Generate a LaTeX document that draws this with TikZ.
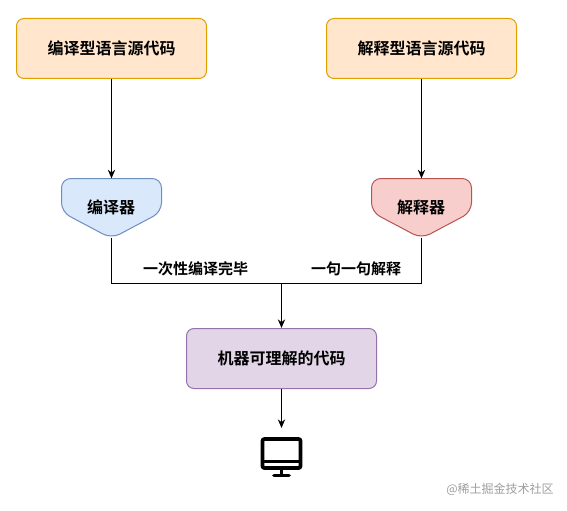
\documentclass[tikz,border=0pt]{standalone}
\usepackage{fontspec}
\setmainfont{Noto Sans CJK SC}[BoldFont={* Bold}]
\usetikzlibrary{arrows.meta}
\definecolor{orfill}{HTML}{FFE6CC}\definecolor{ordraw}{HTML}{E0A000}
\definecolor{blfill}{HTML}{DAE8FC}\definecolor{bldraw}{HTML}{6C8EBF}
\definecolor{rdfill}{HTML}{F8CECC}\definecolor{rddraw}{HTML}{B85450}
\definecolor{pufill}{HTML}{E1D5E7}\definecolor{pudraw}{HTML}{9673A6}
\tikzset{
  srcbox/.style={draw=ordraw,fill=orfill,rounded corners=5.6pt,minimum width=142.5pt,minimum height=45pt,inner sep=0pt,line width=.75pt,font=\fontsize{12}{14}\selectfont\bfseries},
  slot/.style={minimum width=75pt,minimum height=44pt,inner sep=0pt},
  lab/.style={font=\fontsize{11.25}{13}\selectfont\bfseries,inner sep=0pt},
  shapelab/.style={font=\fontsize{12}{14}\selectfont\bfseries,inner sep=0pt},
  flow/.style={line width=.75pt,-{Stealth[length=6.5pt,width=5.5pt]}},
  plain/.style={line width=.75pt},
  penta/.style={line width=.75pt,rounded corners=7pt},
  screen/.style={line width=2.8pt,rounded corners=1.5pt},
}
\begin{document}
\begin{tikzpicture}[x=.75pt,y=-.75pt]
\useasboundingbox (0,0) rectangle (567,510);
\node[srcbox] (cs) at (111.5,48.5) {编译型语言源代码};
\node[srcbox] (is) at (421.5,48.5) {解释型语言源代码};
\node[slot] (en) at (111.5,208) {};
\node[slot] (in) at (421.5,208) {};
\draw[penta,draw=bldraw,fill=blfill] (61.5,178.5)--(161.5,178.5)--(161.5,212)--(111.5,238.5)--(61.5,212)--cycle;
\draw[penta,draw=rddraw,fill=rdfill] (371.5,178.5)--(471.5,178.5)--(471.5,212)--(421.5,238.5)--(371.5,212)--cycle;
\node[shapelab] (enl) at (111,207) {编译器};
\node[shapelab] (inl) at (421,207) {解释器};
\node[srcbox,draw=pudraw,fill=pufill] (mc) at (281.5,358.5) {机器可理解的代码};
\coordinate (j) at (281.5,283.5);
\draw[flow] (cs.south)--(en.north);
\draw[flow] (is.south)--(in.north);
\draw[plain] (en.south)|-(j);
\draw[plain] (in.south)|-(j);
\draw[flow] (j)--(mc.north);
\node[lab] (l1) at (195.5,268.5) {一次性编译完毕};
\node[lab] (l2) at (356,268.5) {一句一句解释};
% monitor
\coordinate (pc) at (281.5,428);
\draw[flow] (mc.south)--(pc);
\draw[screen] (262.5,439)rectangle(300.5,468);
\draw[line width=2.8pt] (262.5,461.5)--(300.5,461.5);
\draw[line width=2.8pt] (281.5,468)--(281.5,475);
\draw[line width=2.8pt,line cap=round] (274,475.5)--(289,475.5);
\node[font=\fontsize{9}{11}\selectfont,text=black!38,inner sep=0pt] (wm) at (500,489.5) {@稀土掘金技术社区};
\end{tikzpicture}
\end{document}
